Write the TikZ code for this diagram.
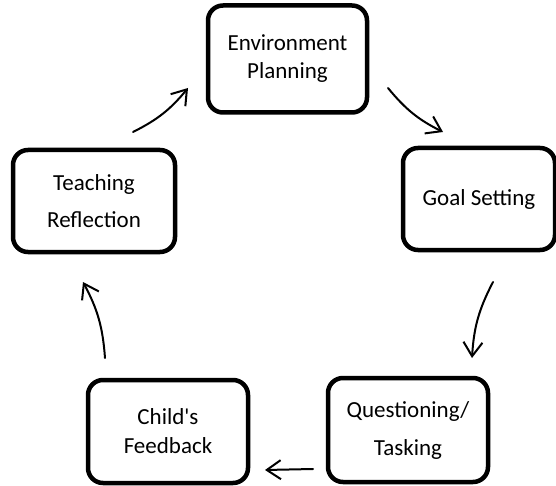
\documentclass[tikz,border=0pt]{standalone}
\usepackage{fontspec}
\setmainfont{Carlito}[Ligatures=TeXOff]
\usetikzlibrary{arrows.meta}
\begin{document}
\begin{tikzpicture}[x=1pt,y=-1pt,
  stage/.style={draw=black, line width=4.5pt, rounded corners=15pt, fill=white, align=center, inner sep=0pt},
  flow/.style={-{Straight Barb[length=14pt,width=19pt]}, line width=2pt, line cap=round},
]
\useasboundingbox (0,0) rectangle (556,486);
\node[stage, minimum width=159pt, minimum height=107pt, font=\fontsize{23}{28}\selectfont] (env) at (287.5,59) {Environment\\Planning};
\node[stage, minimum width=162pt, minimum height=102pt, font=\fontsize{23}{37}\selectfont] (teach) at (94,201) {Teaching\\Reflection};
\node[stage, minimum width=152pt, minimum height=102pt, font=\fontsize{23}{28}\selectfont] (goal) at (479,199) {Goal Setting};
\node[stage, minimum width=160pt, minimum height=103pt, font=\fontsize{23}{29}\selectfont] (child) at (168,431.5) {Child's\\Feedback};
\node[stage, minimum width=160pt, minimum height=104pt, font=\fontsize{23}{38}\selectfont] (quest) at (408,430) {Questioning/\\Tasking};
\coordinate (a1s) at (133,132); \coordinate (a1e) at (188,88);
\coordinate (a2s) at (388,88);  \coordinate (a2e) at (443,132);
\coordinate (a3s) at (493,282); \coordinate (a3e) at (472,358);
\coordinate (a4s) at (313,469); \coordinate (a4e) at (265,470);
\coordinate (a5s) at (105,358); \coordinate (a5e) at (83,282);
\draw[flow] (a1s) to[bend right=12] (a1e);
\draw[flow] (a2s) to[bend right=12] (a2e);
\draw[flow] (a3s) to[bend right=12] (a3e);
\draw[flow] (a4s) -- (a4e);
\draw[flow] (a5s) to[bend right=12] (a5e);
\end{tikzpicture}
\end{document}
